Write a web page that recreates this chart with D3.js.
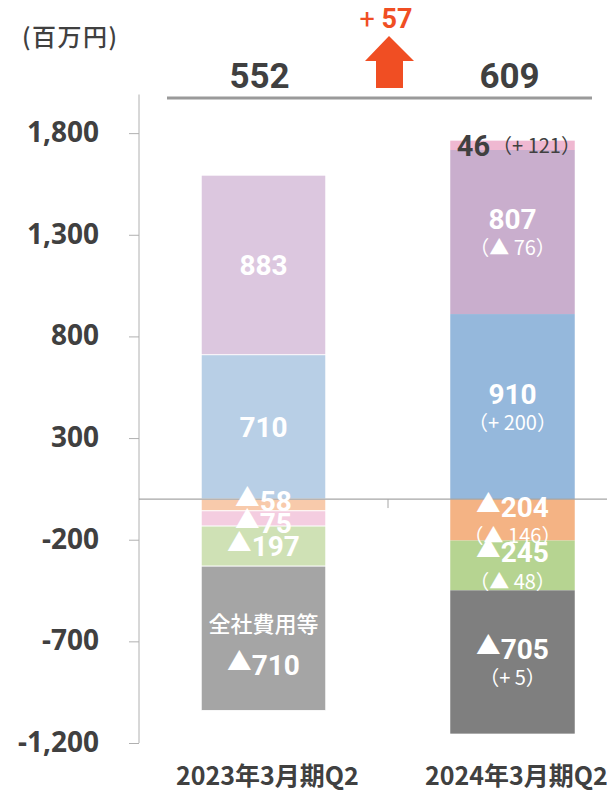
<!DOCTYPE html>
<html>
<head>
<meta charset="utf-8">
<style>
body { margin: 0; background: #fff; }
text { font-family: Roboto, "Noto Sans CJK JP", sans-serif; }
.tick text { font-family: "Noto Sans", sans-serif; font-weight: bold; font-size: 28px; fill: #404040; }
.jp { font-family: "Noto Sans CJK JP", sans-serif; }
</style>
</head>
<body>
<script src="https://d3js.org/d3.v7.min.js"></script>
<script>

// data
var categories = ["2023年3月期Q2", "2024年3月期Q2"];
var blueVals   = [710, 910];
var lilacVals  = [883, 807];
var orangeVals = [-58, -204];
var pinkVals   = [-75, 46];
var greenVals  = [-197, -245];
var grayVals   = [-710, -705];

// change vs previous year (second bar only)
var blueChg   = [null, "（+ 200）"];
var lilacChg  = [null, "（▲ 76）"];
var orangeChg = [null, "（▲ 146）"];
var pinkChg   = [null, "（+ 121）"];
var greenChg  = [null, "（▲ 48）"];
var grayChg   = [null, "（+ 5）"];
var grayTitle = ["全社費用等", null];

var totals = [552, 609];
var totalChange = "57";
var yTicks = [-1200, -700, -200, 300, 800, 1300, 1800];

var keys = ["blue", "lilac", "orange", "pink", "green", "gray"];
var colors = {
  blue:   ["#b8cfe6", "#95b8dc"],
  lilac:  ["#dcc7df", "#c9aecd"],
  orange: ["#f8caab", "#f4b384"],
  pink:   ["#f4cde0", "#efb8d1"],
  green:  ["#cfe1b5", "#b6d491"],
  gray:   ["#a5a5a5", "#7f7f7f"]
};
var changes = {blue: blueChg, lilac: lilacChg, orange: orangeChg, pink: pinkChg, green: greenChg, gray: grayChg};

var rows = categories.map(function(c, i) {
  return {cat: c, blue: blueVals[i], lilac: lilacVals[i], orange: orangeVals[i],
          pink: pinkVals[i], green: greenVals[i], gray: grayVals[i]};
});

var width = 607, height = 792;

var svg = d3.select("body").append("svg")
  .attr("width", width)
  .attr("height", height);

var x = d3.scaleBand()
  .domain(categories)
  .range([139, 637])
  .paddingInner(0.5)
  .paddingOuter(0.25);

var y = d3.scaleLinear()
  .domain([-1200, 1990])
  .range([743, 94.5]);

var series = d3.stack().keys(keys).offset(d3.stackOffsetDiverging)(rows);

// bars
series.forEach(function(s) {
  svg.append("g").selectAll("rect")
    .data(s)
    .enter().append("rect")
    .attr("x", function(d) { return x(d.data.cat); })
    .attr("y", function(d) { return y(Math.max(d[0], d[1])); })
    .attr("width", x.bandwidth())
    .attr("height", function(d) { return Math.abs(y(d[0]) - y(d[1])); })
    .attr("fill", function(d, i) { return colors[s.key][i]; })
    .attr("stroke", function(d, i) { return i == 0 ? "#fff" : "none"; })
    .attr("stroke-width", 0.8);
});

// y axis
var yAxis = svg.append("g")
  .attr("transform", "translate(139,0)")
  .call(d3.axisLeft(y).tickValues(yTicks).tickSize(10).tickPadding(30)
    .tickFormat(function(d) { return d3.format(",")(d).replace("−", "-"); }));
yAxis.select(".domain").attr("stroke", "#b0b0b0").attr("d", "M0," + y(1990) + "V" + y(-1200));
yAxis.selectAll(".tick line").attr("stroke", "#b0b0b0");
yAxis.selectAll(".tick text").attr("dy", "0.3em");

// zero line + category tick
svg.append("line")
  .attr("x1", 139).attr("x2", 607)
  .attr("y1", y(0)).attr("y2", y(0))
  .attr("stroke", "#a6a6a6").attr("stroke-width", 1.2);
svg.append("line")
  .attr("x1", x(categories[1]) - x.step() * 0.25).attr("x2", x(categories[1]) - x.step() * 0.25)
  .attr("y1", y(0)).attr("y2", y(0) + 9)
  .attr("stroke", "#a6a6a6");

// category labels
svg.append("g").selectAll("text")
  .data(categories)
  .enter().append("text")
  .attr("class", "jp")
  .attr("x", function(d) { return x(d) + x.bandwidth() / 2 + 4; })
  .attr("y", 785)
  .attr("text-anchor", "middle")
  .attr("font-size", 25)
  .attr("font-weight", "bold")
  .attr("fill", "#404040")
  .text(function(d) { return d; });

// segment labels
function addValue(t, v) {
  if (v < 0) {
    t.append("tspan").attr("font-family", "'Noto Sans CJK JP', sans-serif")
      .attr("font-size", "0.88em").attr("dy", -4).text("▲");
    t.append("tspan").attr("dy", 4).text(-v);
  } else {
    t.text(v);
  }
}

// collect single-line labels per bar, then push apart the ones that crowd each other
var labels = [];
series.forEach(function(s) {
  s.forEach(function(d, i) {
    labels.push({key: s.key, i: i, v: d.data[s.key],
      cx: x(d.data.cat) + x.bandwidth() / 2,
      cy: (y(d[0]) + y(d[1])) / 2});
  });
});
categories.forEach(function(c, i) {
  var neg = labels.filter(function(l) { return l.i == i && l.v < 0 && !changes[l.key][i] && !(grayTitle[i] && l.key == "gray"); })
    .sort(function(a, b) { return a.cy - b.cy; });
  for (var k = 1; k < neg.length; k++) {
    var gap = neg[k].cy - neg[k - 1].cy;
    if (gap < 22) {
      neg[k - 1].cy -= (22 - gap) / 2;
      neg[k].cy += (22 - gap) / 2;
    }
  }
});

labels.forEach(function(l) {
  var v = l.v, i = l.i, cx = l.cx, cy = l.cy;
  var sub = changes[l.key][i];
  var g = svg.append("g");
  if (Math.abs(v) < 60 && v > 0) {
    // thin segment: label sits on it, dark text
    g.append("text").attr("x", cx - 39).attr("y", cy + 11)
      .attr("text-anchor", "middle").attr("font-size", 29).attr("font-weight", "bold")
      .attr("fill", "#404040").text(v);
    g.append("text").attr("class", "jp").attr("x", cx + 24).attr("y", cy + 8)
      .attr("text-anchor", "middle").attr("font-size", 20)
      .attr("fill", "#404040").text(sub);
    return;
  }
  var my = cy, sy = null;
  if (sub) { my = cy - 13; sy = cy + 16; }
  if (grayTitle[i] && l.key == "gray") {
    g.append("text").attr("class", "jp").attr("x", cx).attr("y", cy - 14)
      .attr("dy", "0.35em").attr("text-anchor", "middle")
      .attr("font-size", 22).attr("font-weight", 500).attr("fill", "#fff")
      .text(grayTitle[i]);
    my = cy + 27;
  }
  var t = g.append("text").attr("x", cx).attr("y", my + 10)
    .attr("text-anchor", "middle").attr("font-size", 28).attr("font-weight", "bold")
    .attr("fill", "#fff");
  addValue(t, v);
  if (sub) {
    g.append("text").attr("class", "jp").attr("x", cx).attr("y", sy).attr("dy", "0.36em")
      .attr("text-anchor", "middle").attr("font-size", 20)
      .attr("fill", "#fff").text(sub);
  }
});

// totals on top
svg.append("line")
  .attr("x1", 167).attr("x2", 592).attr("y1", 98).attr("y2", 98)
  .attr("stroke", "#9a9a9a").attr("stroke-width", 3);

svg.append("g").selectAll("text")
  .data(totals)
  .enter().append("text")
  .attr("x", function(d, i) { return x(categories[i]) + x.bandwidth() / 2 - (i == 0 ? 4 : 3); })
  .attr("y", 88)
  .attr("text-anchor", "middle")
  .attr("font-size", 35)
  .attr("font-weight", "bold")
  .attr("fill", "#404040")
  .text(function(d) { return d; });

// change arrow
var ax = (x(categories[0]) + x(categories[1]) + x.bandwidth()) / 2 + 1;
svg.append("path")
  .attr("d", "M" + ax + ",36 L" + (ax + 25) + ",61 L" + (ax + 14) + ",61 L" + (ax + 14) + ",88 L" +
    (ax - 13) + ",88 L" + (ax - 13) + ",61 L" + (ax - 24) + ",61 Z")
  .attr("fill", "#f04e23");
var ct = svg.append("text")
  .attr("x", ax - 3).attr("y", 28)
  .attr("text-anchor", "middle")
  .attr("font-size", 27)
  .attr("fill", "#f04e23");
ct.append("tspan").attr("font-weight", "normal").text("+ ");
ct.append("tspan").attr("font-weight", "bold").text(totalChange);

// unit
svg.append("text")
  .attr("class", "jp")
  .attr("x", 22).attr("y", 46)
  .attr("font-size", 24)
  .attr("font-weight", 500)
  .attr("letter-spacing", 1.5)
  .attr("fill", "#404040")
  .text("(百万円)");

</script>
</body>
</html>
